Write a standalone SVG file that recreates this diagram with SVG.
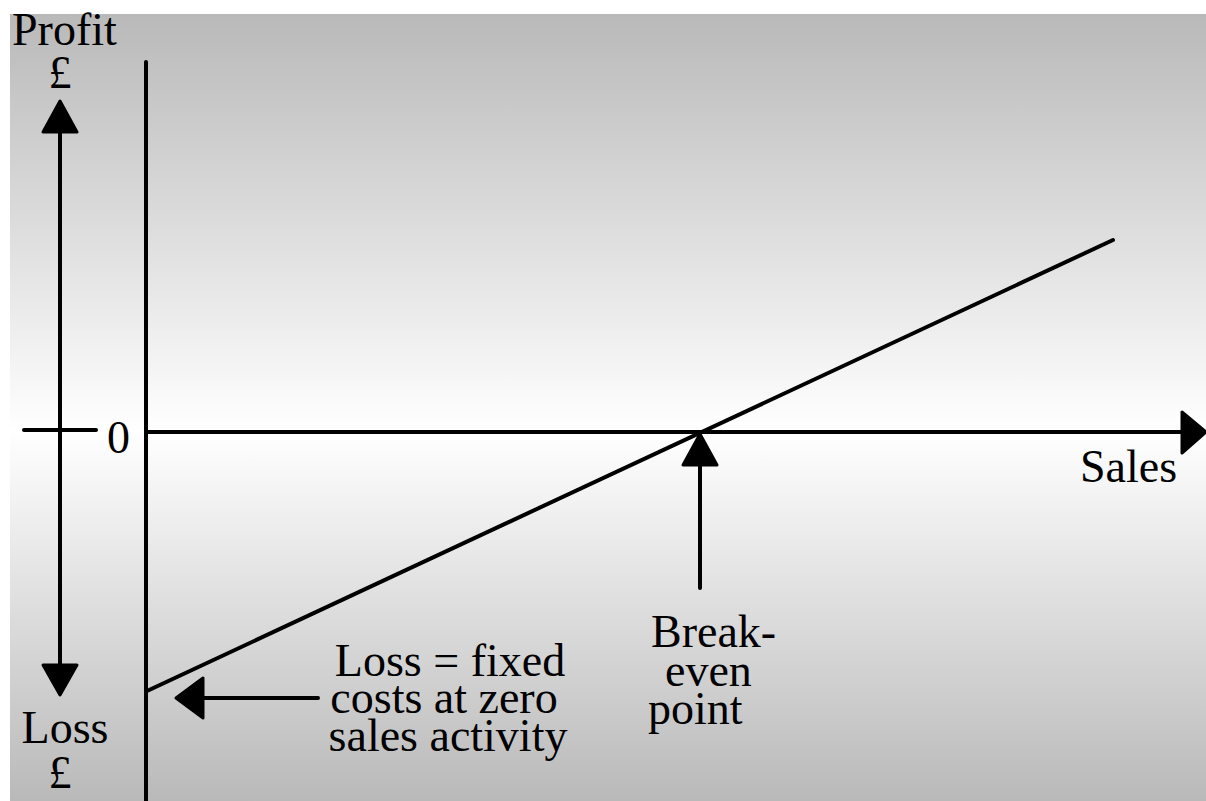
<svg xmlns="http://www.w3.org/2000/svg" width="1206" height="801" viewBox="0 0 1206 801">
  <defs>
    <linearGradient id="bg" gradientUnits="userSpaceOnUse" x1="0" y1="14" x2="0" y2="801">
      <stop offset="0" stop-color="#b9b9b9"/>
      <stop offset="0.53" stop-color="#ffffff"/>
      <stop offset="1" stop-color="#b9b9b9"/>
    </linearGradient>
    <style>
      .ln { stroke: #000; stroke-width: 4; fill: none; stroke-linecap: round; }
      .hd { fill: #000; stroke: #000; stroke-width: 3; stroke-linejoin: round; }
      .tx { font-family: "Liberation Serif", "Times New Roman", serif; font-size: 46px; fill: #000; }
    </style>
  </defs>
  <rect x="0" y="0" width="1206" height="801" fill="#ffffff"/>
  <rect x="10" y="14" width="1196" height="787" fill="url(#bg)"/>

  <g id="connectors">
    <!-- vertical axis -->
    <line class="ln" x1="146" y1="62" x2="146" y2="801" stroke-linecap="butt"/>
    <!-- horizontal axis (Sales) -->
    <line class="ln" x1="146" y1="432" x2="1185" y2="432"/>
    <polygon class="hd" points="1182,412 1206,432 1182,453"/>
    <!-- profit line -->
    <line class="ln" x1="147" y1="691" x2="1113" y2="240"/>
    <!-- profit/loss double arrow -->
    <line class="ln" x1="60" y1="130" x2="60" y2="666"/>
    <polygon class="hd" points="60,101 43,132 77,132"/>
    <polygon class="hd" points="43,665 77,665 60,695"/>
    <!-- zero tick -->
    <line class="ln" x1="24" y1="430" x2="96" y2="430"/>
    <!-- break-even pointer -->
    <line class="ln" x1="700" y1="462" x2="700" y2="588"/>
    <polygon class="hd" points="700,434 683,465 717,465"/>
    <!-- loss pointer -->
    <line class="ln" x1="200" y1="698" x2="318" y2="698"/>
    <polygon class="hd" points="176,698 203,678 203,718"/>
  </g>

  <g id="label-profit">
    <text class="tx" x="12" y="45">Profit</text>
    <text class="tx" x="60" y="88" text-anchor="middle">£</text>
  </g>
  <g id="label-loss">
    <text class="tx" x="65" y="743" text-anchor="middle">Loss</text>
    <text class="tx" x="60" y="788" text-anchor="middle">£</text>
  </g>
  <g id="label-zero">
    <text class="tx" x="107" y="453">0</text>
  </g>
  <g id="label-sales">
    <text class="tx" x="1080" y="482">Sales</text>
  </g>
  <g id="label-breakeven">
    <text class="tx" x="651" y="647">Break-</text>
    <text class="tx" x="665" y="686">even</text>
    <text class="tx" x="648" y="724">point</text>
  </g>
  <g id="label-fixed-costs">
    <text class="tx" x="450" y="676" text-anchor="middle">Loss = fixed</text>
    <text class="tx" x="444" y="713" text-anchor="middle">costs at zero</text>
    <text class="tx" x="448" y="751" text-anchor="middle">sales activity</text>
  </g>
</svg>
